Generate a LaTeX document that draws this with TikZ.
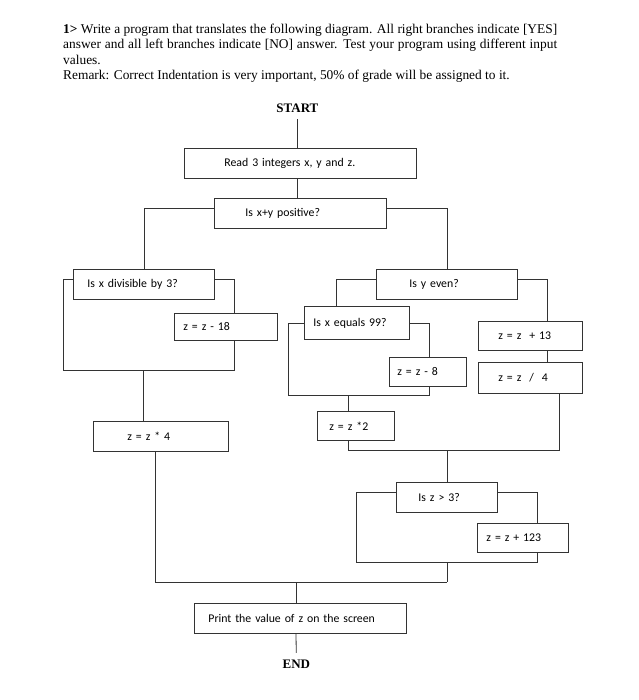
\documentclass[tikz,border=0pt]{standalone}
\usepackage{fontspec}
\setmainfont{Liberation Serif}
\newfontfamily\boxfont{Carlito}
\usetikzlibrary{positioning}
\tikzset{
        block/.style = {draw=black!80, rectangle, line width=0.8pt,
            inner xsep=0pt, inner ysep=2pt, align=left,
            anchor=north west, font=\boxfont\fontsize{11.8}{14}\selectfont},
        term/.style = {font=\bfseries\fontsize{13}{15}\selectfont,
            inner xsep=2pt, inner ysep=7pt},
        line/.style = {draw=black!80, line width=0.8pt},
    }

\begin{document}
\begin{tikzpicture}[x=1pt, y=-1pt]
\useasboundingbox (0,0) rectangle (638,700);

\node[anchor=north west, inner sep=0pt, text width=494pt, align=justify,
      font=\fontsize{13.4}{15.5}\selectfont] (task) at (63,23.8)
      {\textbf{1>} Write a program that translates the following diagram. All right branches indicate [YES]\linebreak
       answer and all left branches indicate [NO] answer. Test your program using different input\linebreak
       values.\\
       Remark: Correct Indentation is very important, 50\% of grade will be assigned to it.};

\node[block, text width=232pt, minimum height=30pt] (read) at (184,148) {\hspace*{40pt}Read 3 integers x, y and z.};
\node[term, above=28.6pt of read, xshift=-3pt] (start) {START};
\node[block, text width=172pt, minimum height=30pt] (xy) at (214,198) {\hspace*{31pt}Is x+y positive?};

\node[block, text width=141pt, minimum height=30pt] (div) at (73,269) {\hspace*{14pt}Is x divisible by 3?};
\node[block, text width=103pt, minimum height=27pt] (m18) at (174,313) {\hspace*{9pt}z = z - 18};
\node[block, text width=135pt, minimum height=30pt] (m4) at (93,421) {\hspace*{34pt}z = z * 4};

\node[block, text width=141pt, minimum height=30pt] (even) at (376,269) {\hspace*{33pt}Is y even?};
\node[block, text width=105pt, minimum height=33pt] (e99) at (304,306) {\hspace*{9pt}Is x equals 99?};
\node[block, text width=77pt, minimum height=29pt] (m8) at (389,357) {\hspace*{8pt}z = z - 8};
\node[block, text width=77pt, minimum height=29pt] (m2) at (317,411) {\hspace*{12pt}z = z *2};
\node[block, text width=104pt, minimum height=29pt] (p13) at (478,321) {\hspace*{20pt}z = z~~+ 13};
\node[block, text width=104pt, minimum height=31pt] (d4) at (478,362) {\hspace*{20pt}z = z~~/~~4};

\node[block, text width=101pt, minimum height=30pt] (gt3) at (396,482) {\hspace*{22pt}Is z > 3?};
\node[block, text width=91pt, minimum height=29pt] (p123) at (477,523) {\hspace*{9pt}z = z + 123};

\node[block, text width=212pt, minimum height=30pt] (print) at (194,603) {\hspace*{14pt}Print the value of z on the screen};
\node[term, below=19pt of print, xshift=-4pt] (end) {END};

\coordinate (lA) at (63,370);
\coordinate (rA) at (234,370);
\coordinate (jA) at (143,370);
\coordinate (lB) at (288,395);
\coordinate (rB) at (429,395);
\coordinate (jB) at (348,395);
\coordinate (lC) at (348,450);
\coordinate (rC) at (559,450);
\coordinate (jC) at (447,450);
\coordinate (lD) at (356,562);
\coordinate (rD) at (537,562);
\coordinate (jD) at (447,562);
\coordinate (lE) at (155,582);
\coordinate (rE) at (447,582);
\coordinate (jE) at (296,582);

\draw[line] (start) -- (start |- read.north);
\draw[line] (start |- read.south) -- (start |- xy.north);
\draw[line] ([yshift=5pt]xy.west) -| (div.north);
\draw[line] ([yshift=5pt]xy.east) -| (even.north);

\draw[line] ([yshift=5pt]div.west) -| (lA) -- (rA) -- (rA |- m18.south);
\draw[line] ([yshift=5pt]div.east) -| (rA |- m18.north);
\draw[line] (jA) -- (jA |- m4.north);
\draw[line] (lE |- m4.south) -- (lE) -- (rE);

\draw[line] ([yshift=5pt]even.west) -| ([xshift=-20.5pt]e99.north);
\draw[line] ([yshift=5pt]even.east) -| ([xshift=17pt]p13.north);
\draw[line] ([xshift=17pt]p13.south) -- ([xshift=17pt]d4.north);
\draw[line] (e99.west) -| (lB) -- (rB) -- (rB |- m8.south);
\draw[line] (e99.east) -| (rB |- m8.north);
\draw[line] (jB) -- (jB |- m2.north);
\draw[line] (lC |- m2.south) -- (lC) -- (rC) -- (rC |- d4.south);
\draw[line] (jC) -- (jC |- gt3.north);

\draw[line] ([yshift=5pt]gt3.west) -| (lD) -- (rD) -- (rD |- p123.south);
\draw[line] ([yshift=5pt]gt3.east) -| (rD |- p123.north);
\draw[line] (jD) -- (rE);

\draw[line] (jE) -- (jE |- print.north);
\draw[line] (jE |- print.south) -- (end);
\end{tikzpicture}
\end{document}
